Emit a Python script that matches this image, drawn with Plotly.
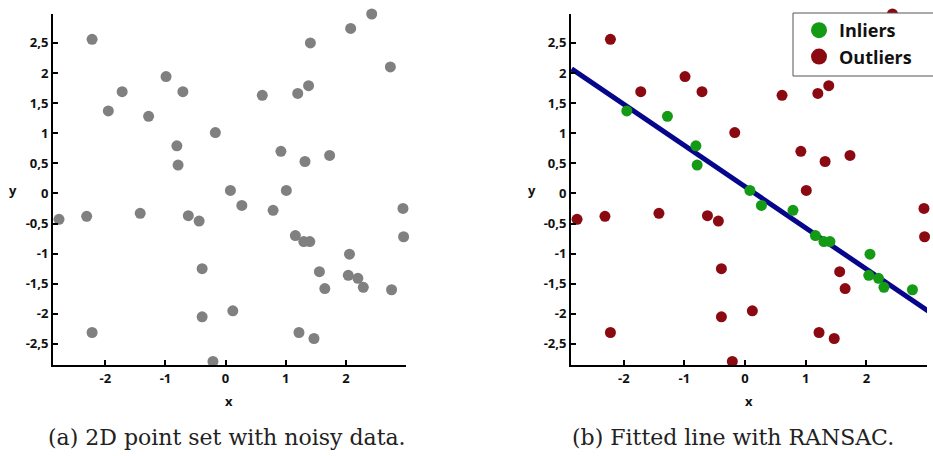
import plotly.graph_objects as go

# ---- data ----
pts_x = [-2.22, 2.43, 2.08, 1.41, 2.74, -0.99, -1.72, -0.71, -1.95, -1.28,
         0.61, 1.20, 1.38, -0.17, -0.81, -0.79, 0.92, 1.32, 1.73,
         0.08, 1.01, 0.27, 0.79, 2.95, -2.77, -2.31, -1.42, -0.62, -0.44,
         1.16, 1.30, 1.40, 2.96, 2.06, 1.56, -0.39, 2.04, 2.20, 2.29, 1.65,
         2.76, -0.39, 0.12, -2.22, 1.22, 1.47, -0.21]
pts_y = [2.56, 2.98, 2.74, 2.50, 2.10, 1.94, 1.69, 1.69, 1.37, 1.28,
         1.63, 1.66, 1.79, 1.01, 0.79, 0.47, 0.70, 0.53, 0.63,
         0.05, 0.05, -0.20, -0.28, -0.25, -0.43, -0.38, -0.33, -0.37, -0.46,
         -0.70, -0.80, -0.80, -0.72, -1.01, -1.30, -1.25, -1.36, -1.41, -1.56, -1.58,
         -1.60, -2.05, -1.95, -2.31, -2.31, -2.41, -2.79]
inlier = [0, 0, 0, 0, 0, 0, 0, 0, 1, 1,
          0, 0, 0, 0, 1, 1, 0, 0, 0,
          1, 0, 1, 1, 0, 0, 0, 0, 0, 0,
          1, 1, 1, 0, 1, 0, 0, 1, 1, 1, 0,
          1, 0, 0, 0, 0, 0, 0]
fit_x = [-2.86, 3.07]
fit_y = [2.07, -1.99]

x_ticks = [-2, -1, 0, 1, 2]
x_ticktext = ["-2", "-1", "0", "1", "2"]
y_ticks = [-2.5, -2, -1.5, -1, -0.5, 0, 0.5, 1, 1.5, 2, 2.5]
y_ticktext = ["-2,5", "-2", "-1,5", "-1", "-0,5", "0", "0,5", "1", "1,5", "2", "2,5"]
x_range = [-2.87, 3.0]
y_range = [-2.85, 2.98]
captions = ["(a) 2D point set with noisy data.", "(b) Fitted line with RANSAC."]
legend_names = ["Inliers", "Outliers"]

GRAY = "#808080"
GREEN = "#149a14"
RED = "#8b0a12"
NAVY = "#06068c"
W, H = 933, 456

in_x = [x for x, f in zip(pts_x, inlier) if f]
in_y = [y for y, f in zip(pts_y, inlier) if f]
out_x = [x for x, f in zip(pts_x, inlier) if not f]
out_y = [y for y, f in zip(pts_y, inlier) if not f]

fig = go.Figure()
# left panel
fig.add_trace(go.Scatter(x=pts_x, y=pts_y, mode="markers", xaxis="x", yaxis="y",
                         marker=dict(color=GRAY, size=11, line=dict(width=0)),
                         cliponaxis=False, showlegend=False))
# right panel
fig.add_trace(go.Scatter(x=fit_x, y=fit_y, mode="lines", xaxis="x2", yaxis="y2",
                         line=dict(color=NAVY, width=5), showlegend=False))
fig.add_trace(go.Scatter(x=out_x, y=out_y, mode="markers", xaxis="x2", yaxis="y2",
                         marker=dict(color=RED, size=11, line=dict(width=0)),
                         cliponaxis=False, showlegend=False))
fig.add_trace(go.Scatter(x=in_x, y=in_y, mode="markers", xaxis="x2", yaxis="y2",
                         marker=dict(color=GREEN, size=11, line=dict(width=0)),
                         cliponaxis=False, showlegend=False))
# legend-only entries with large symbols
for name, col in zip(legend_names, [GREEN, RED]):
    fig.add_trace(go.Scatter(x=[None], y=[None], mode="markers", name=name,
                             xaxis="x2", yaxis="y2",
                             marker=dict(color=col, size=16, line=dict(width=0))))

tickfont = dict(family="Open Sans", size=13, color="#111", weight="bold")
ax_common = dict(showline=True, linecolor="black", linewidth=2, ticks="inside",
                 ticklen=5, tickwidth=2, tickcolor="black", showgrid=False,
                 zeroline=False, tickfont=tickfont, fixedrange=True,
                 automargin=False)

def px_x(p):
    return p / W

def px_y(p):
    return 1 - p / H

yd = [px_y(365), px_y(14)]
fig.update_layout(
    width=W, height=H, margin=dict(l=0, r=0, t=0, b=0, pad=0),
    paper_bgcolor="white", plot_bgcolor="white",
    xaxis=dict(domain=[px_x(53), px_x(406)], range=x_range, tickvals=x_ticks,
               ticktext=x_ticktext, anchor="y", **ax_common),
    yaxis=dict(domain=yd, range=y_range, tickvals=y_ticks, ticktext=y_ticktext,
               anchor="x", **ax_common),
    xaxis2=dict(domain=[px_x(571), px_x(927)], range=x_range, tickvals=x_ticks,
                ticktext=x_ticktext, anchor="y2", **ax_common),
    yaxis2=dict(domain=yd, range=y_range, tickvals=y_ticks, ticktext=y_ticktext,
                anchor="x2", **ax_common),
    legend=dict(x=px_x(799), y=px_y(12), xanchor="left", yanchor="top",
                bgcolor="rgba(0,0,0,0)", borderwidth=0, tracegroupgap=0,
                font=dict(family="Open Sans", size=18, color="#111", weight="bold")),
    shapes=[dict(type="rect", xref="paper", yref="paper",
                 x0=px_x(793), x1=px_x(934), y0=px_y(76), y1=px_y(13),
                 fillcolor="white", line=dict(color="#555", width=1), layer="above")],
)

lab = dict(family="Open Sans", size=13, color="#111", weight="bold")
ann = []
for xc, yc_x in [(13, 229), (532, 749)]:
    ann.append(dict(text="y", x=px_x(xc), y=px_y(190), xref="paper", yref="paper",
                    showarrow=False, font=lab, xanchor="center", yanchor="middle"))
    ann.append(dict(text="x", x=px_x(yc_x), y=px_y(401), xref="paper", yref="paper",
                    showarrow=False, font=lab, xanchor="center", yanchor="middle"))
capfont = dict(family="DejaVu Serif", size=22, color="#222")
for cap, cx in zip(captions, [227, 733]):
    ann.append(dict(text=cap, x=px_x(cx), y=px_y(437), xref="paper", yref="paper",
                    showarrow=False, font=capfont, xanchor="center", yanchor="middle"))
fig.update_layout(annotations=ann)

fig.write_html("out.html", config={"displayModeBar": False},
               post_script="document.body.style.margin='0';document.body.style.overflow='hidden';")
